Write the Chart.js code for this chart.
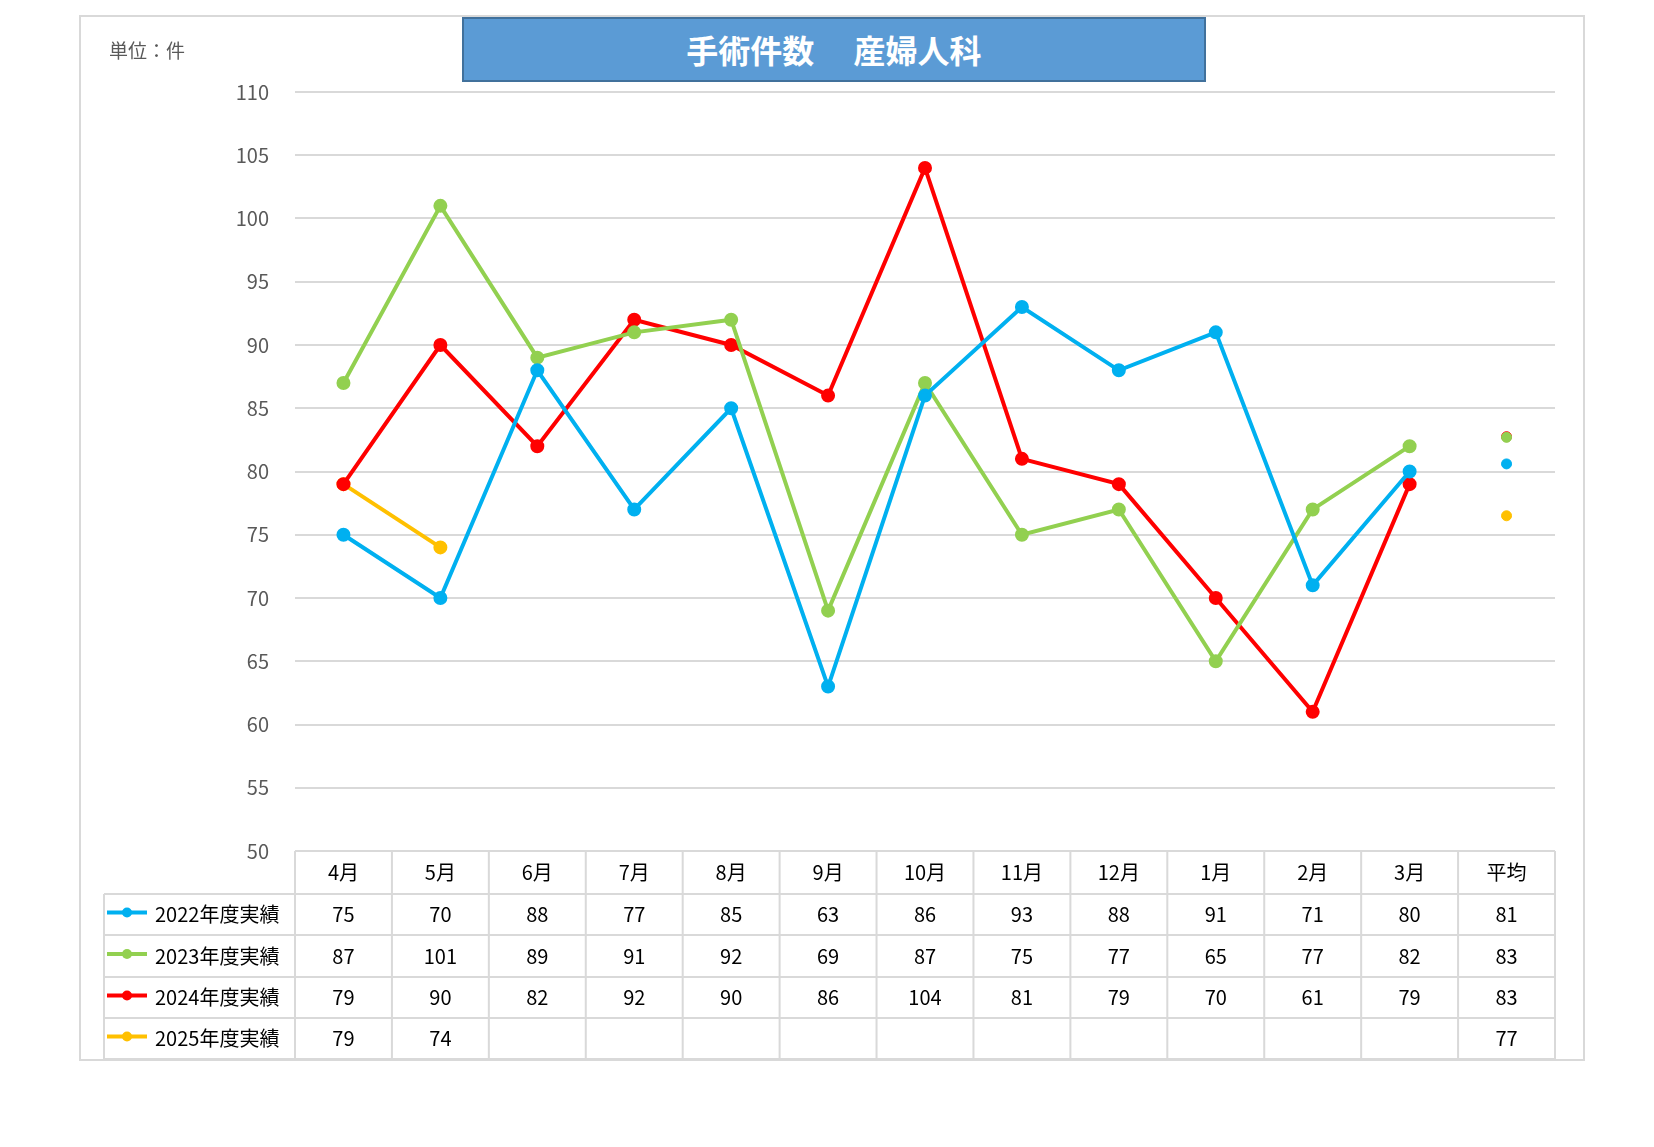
<!DOCTYPE html>
<html>
<head>
<meta charset="utf-8">
<script src="https://cdn.jsdelivr.net/npm/chart.js@4/dist/chart.umd.min.js"></script>
<style>
  body { margin:0; background:#fff; }
  #wrap { position:relative; width:1654px; height:1147px; }
  #frame { position:absolute; left:79px; top:15px; width:1502px; height:1042px; border:2px solid #d9d9d9; }
  #title { position:absolute; left:462px; top:17px; width:740px; height:61px; background:#5b9bd5; border:2px solid #41719c;
    color:#fff; font:bold 32px "Noto Sans CJK JP"; text-align:center; line-height:61px; white-space:pre; }
  #unit { position:absolute; left:109px; top:36px; font:19px "Noto Sans CJK JP"; color:#595959; }
  canvas { position:absolute; left:0; top:0; }
</style>
</head>
<body>
<div id="wrap">
  <div id="frame"></div>
  <canvas id="myChart" width="1654" height="1147"></canvas>
  <div id="title">手術件数　 産婦人科</div>
  <div id="unit">単位：件</div>
</div>
<script>
const months = ["4月","5月","6月","7月","8月","9月","10月","11月","12月","1月","2月","3月","平均"];
const seriesNames = ["2022年度実績","2023年度実績","2024年度実績","2025年度実績"];
const colors = ["#00b0f0","#92d050","#ff0000","#ffc000"];
const fy2022 = [75,70,88,77,85,63,86,93,88,91,71,80];
const fy2023 = [87,101,89,91,92,69,87,75,77,65,77,82];
const fy2024 = [79,90,82,92,90,86,104,81,79,70,61,79];
const fy2025 = [79,74];
const averages = [80.6, 82.7, 82.75, 76.5];
const averageLabels = [81, 83, 83, 77];
const allSeries = [fy2022, fy2023, fy2024, fy2025];

const datasets = [];
allSeries.forEach(function (s, i) {
  datasets.push({
    label: seriesNames[i], data: s, borderColor: colors[i], backgroundColor: colors[i],
    borderWidth: 4, pointRadius: 5, pointHoverRadius: 5, tension: 0
  });
});
allSeries.forEach(function (s, i) {
  const d = new Array(12).fill(null);
  d.push(averages[i]);
  datasets.push({
    label: seriesNames[i] + "平均", data: d, borderColor: colors[i], backgroundColor: colors[i],
    showLine: false, pointRadius: 5
  });
});

const tablePlugin = {
  id: "dataTable",
  afterDraw(chart) {
    const ctx = chart.ctx;
    const x = chart.scales.x;
    const rows = [851, 894, 935, 977, 1018, 1059];
    const left = 104, plotL = chart.chartArea.left, plotR = chart.chartArea.right;
    const colW = (plotR - plotL) / 13;
    ctx.save();
    ctx.strokeStyle = "#d9d9d9";
    ctx.lineWidth = 2;
    ctx.beginPath();
    ctx.moveTo(plotL, rows[0]); ctx.lineTo(plotR, rows[0]);
    for (let r = 1; r < rows.length; r++) { ctx.moveTo(left, rows[r]); ctx.lineTo(plotR, rows[r]); }
    ctx.moveTo(left, rows[1]); ctx.lineTo(left, rows[5]);
    for (let c = 0; c <= 13; c++) { ctx.moveTo(plotL + c * colW, rows[0]); ctx.lineTo(plotL + c * colW, rows[5]); }
    ctx.stroke();
    ctx.fillStyle = "#000";
    ctx.font = "20px 'Noto Sans CJK JP'";
    ctx.textAlign = "center";
    ctx.textBaseline = "middle";
    months.forEach(function (m, i) { ctx.fillText(m, x.getPixelForValue(i), (rows[0] + rows[1]) / 2); });
    allSeries.forEach(function (s, r) {
      const cy = (rows[r + 1] + rows[r + 2]) / 2;
      s.forEach(function (v, i) { ctx.fillText(v, x.getPixelForValue(i), cy); });
      ctx.fillText(averageLabels[r], x.getPixelForValue(12), cy);
      // legend key
      ctx.strokeStyle = colors[r]; ctx.lineWidth = 4;
      ctx.beginPath(); ctx.moveTo(107, cy - 2); ctx.lineTo(147, cy - 2); ctx.stroke();
      ctx.fillStyle = colors[r];
      ctx.beginPath(); ctx.arc(127, cy - 2, 5, 0, Math.PI * 2); ctx.fill();
      ctx.fillStyle = "#000";
      ctx.textAlign = "left";
      ctx.fillText(seriesNames[r], 155, cy);
      ctx.textAlign = "center";
    });
    ctx.restore();
  }
};

var ctx = document.getElementById("myChart").getContext("2d");
var myChart = new Chart(ctx, {
  type: "line",
  data: { labels: months, datasets: datasets },
  options: {
    responsive: false,
    animation: false,
    layout: { padding: { left: 0, right: 99, top: 92, bottom: 296 } },
    plugins: { legend: { display: false }, tooltip: { enabled: false } },
    scales: {
      x: { offset: true, display: false },
      y: {
        min: 50, max: 110,
        afterFit: function (scale) { scale.width = 295; },
        border: { display: false },
        grid: { color: "#d9d9d9", lineWidth: 2, drawTicks: false },
        ticks: { stepSize: 5, padding: 26, color: "#595959", font: { size: 20, family: "Noto Sans CJK JP" } }
      }
    }
  },
  plugins: [tablePlugin]
});
</script>
</body>
</html>
